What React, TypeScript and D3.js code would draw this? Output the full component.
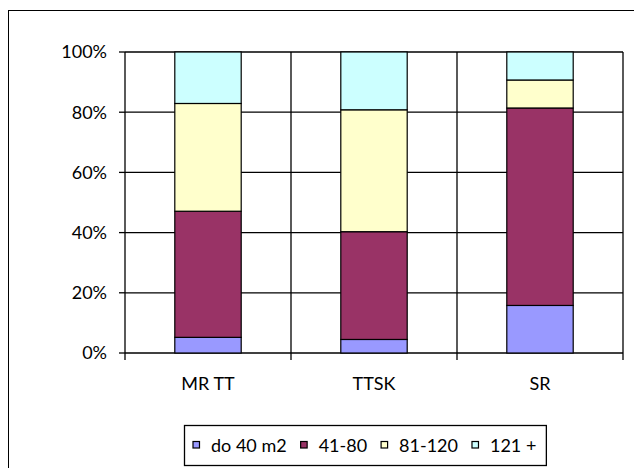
import React, { useEffect, useRef } from "react";
import * as d3 from "d3";

const categories = ["MR TT", "TTSK", "SR"];
const seriesNames = ["do 40 m2", "41-80", "81-120", "121 +"];
const sDo40 = [5.2, 4.5, 15.8];
const s41to80 = [41.9, 35.8, 65.6];
const s81to120 = [35.8, 40.5, 9.3];
const s121plus = [17.1, 19.2, 9.3];
const yTicks = [0, 0.2, 0.4, 0.6, 0.8, 1];
const colors = ["#9999FF", "#993366", "#FFFFCC", "#CCFFFF"];

const W = 634;
const H = 468;
const FONT = "Lato, 'Open Sans', sans-serif";

export default function App() {
  const ref = useRef<SVGSVGElement | null>(null);

  useEffect(() => {
    const svg = d3.select(ref.current);
    svg.selectAll("*").remove();

    const seriesVals = [sDo40, s41to80, s81to120, s121plus];
    const rows = categories.map((c, i) => {
      const o: any = { cat: c };
      seriesNames.forEach((s, j) => (o[s] = seriesVals[j][i]));
      return o;
    });
    const stacked = d3.stack().keys(seriesNames).offset(d3.stackOffsetExpand)(rows);

    const m = { left: 125, right: 623, top: 52, bottom: 353 };
    const x = d3.scaleBand().domain(categories).range([m.left, m.right]).paddingInner(0).paddingOuter(0);
    const y = d3.scaleLinear().domain([0, 1]).range([m.bottom, m.top]);

    // outer chart border
    svg.append("rect").attr("x", 8.5).attr("y", 10.5).attr("width", 700).attr("height", 600)
      .attr("fill", "#fff").attr("stroke", "#000").attr("stroke-width", 1);

    const g = svg.append("g");
    // horizontal gridlines
    g.selectAll("line.h").data(yTicks).join("line")
      .attr("x1", m.left).attr("x2", m.right)
      .attr("y1", (d) => y(d)).attr("y2", (d) => y(d))
      .attr("stroke", "#000").attr("stroke-width", 1.3);
    // vertical gridlines at category boundaries
    const bounds = categories.map((c) => x(c)!).concat([m.right]);
    g.selectAll("line.v").data(bounds).join("line")
      .attr("x1", (d) => d).attr("x2", (d) => d)
      .attr("y1", m.top).attr("y2", m.bottom + 7)
      .attr("stroke", "#000").attr("stroke-width", 1.3);
    // y ticks
    g.selectAll("line.yt").data(yTicks).join("line")
      .attr("x1", m.left - 6).attr("x2", m.left)
      .attr("y1", (d) => y(d)).attr("y2", (d) => y(d))
      .attr("stroke", "#000").attr("stroke-width", 1.3);
    // y labels
    g.selectAll("text.yl").data(yTicks).join("text")
      .attr("x", 107).attr("y", (d) => y(d)).attr("dy", "0.35em")
      .attr("text-anchor", "end")
      .attr("font-family", FONT).attr("font-size", 18).attr("fill", "#000")
      .text((d) => d3.format(".0%")(d));

    // bars
    const bw = x.bandwidth() * 0.4;
    stacked.forEach((layer, j) => {
      g.append("g").selectAll("rect").data(layer).join("rect")
        .attr("x", (d: any) => x(d.data.cat)! + (x.bandwidth() - bw) / 2)
        .attr("width", bw)
        .attr("y", (d: any) => y(d[1]))
        .attr("height", (d: any) => y(d[0]) - y(d[1]))
        .attr("fill", colors[j]).attr("stroke", "#000").attr("stroke-width", 1.2);
    });

    // x labels
    g.selectAll("text.xl").data(categories).join("text")
      .attr("x", (d) => x(d)! + x.bandwidth() / 2).attr("y", 390)
      .attr("text-anchor", "middle")
      .attr("font-family", FONT).attr("font-size", 18).attr("fill", "#000")
      .text((d) => d);

    // legend
    const lg = svg.append("g");
    const box = lg.append("rect").attr("x", 184.5).attr("y", 425.5).attr("height", 40)
      .attr("fill", "#fff").attr("stroke", "#000").attr("stroke-width", 1.3);
    let cx = 193;
    seriesNames.forEach((s, j) => {
      lg.append("rect").attr("x", cx).attr("y", 441.5).attr("width", 6.5).attr("height", 6.5)
        .attr("fill", colors[j]).attr("stroke", "#000").attr("stroke-width", 1.2);
      const t = lg.append("text").attr("x", cx + 18).attr("y", 451.5)
        .attr("font-family", FONT).attr("font-size", 18).attr("fill", "#000").text(s);
      const w = (t.node() as SVGTextElement).getComputedTextLength();
      cx = cx + 18 + w + (j < seriesNames.length - 1 ? 14 : 0);
    });
    box.attr("width", cx + 10 - 184.5);
  }, []);

  return (
    <svg ref={ref} width={W} height={H} style={{ display: "block", position: "absolute", left: 0, top: 0 }} />
  );
}
